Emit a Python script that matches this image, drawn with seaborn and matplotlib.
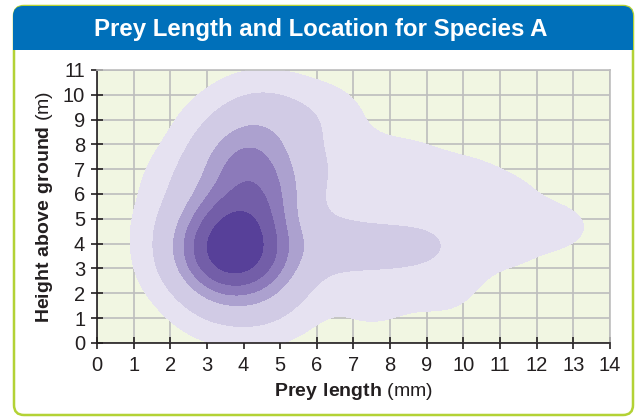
import matplotlib
matplotlib.use("Agg")
import matplotlib.pyplot as plt
from matplotlib.patches import FancyBboxPatch, Rectangle
from matplotlib.transforms import IdentityTransform
import seaborn as sns

# prey sightings: length (mm), height (m), relative count
prey_len = [3.7, 3.8, 3.9, 3.0, 4.6, 3.4, 4.3, 3.3, 4.4, 4.2,
            4.0, 4.3, 4.5, 3.3, 5.0,
            2.5, 2.6, 2.5, 3.5, 4.6, 5.1, 5.3, 5.4, 5.5, 3.3,
            6.3, 7.3, 8.4, 9.4, 6.8, 8.4, 10.0, 11.3, 12.5, 13.0,
            7.5, 9.5, 11.4, 6.2]
height = [3.3, 4.1, 5.0, 3.8, 3.6, 2.5, 2.6, 5.5, 5.8, 6.8,
          7.8, 8.8, 9.6, 7.2, 7.5,
          4.8, 6.5, 3.0, 1.5, 1.3, 4.4, 2.5, 6.2, 8.8, 8.8,
          4.0, 3.9, 3.9, 4.0, 7.2, 7.2, 6.7, 6.0, 4.8, 4.5,
          1.6, 2.0, 3.3, 9.2]
counts = [5, 6, 4.5, 2.5, 2.0, 2, 2, 1.5, 3, 3.2,
          2.6, 1.1, 0.8, 0.8, 0.8,
          1.0, 0.7, 0.5, 0.8, 0.8, 0.7, 0.6, 0.8, 0.7, 0.3,
          1.3, 1.1, 1.1, 0.75, 0.6, 0.45, 0.35, 0.3, 0.25, 0.15,
          0.4, 0.35, 0.25, 0.4]

band_colors = ['#E6E2F1', '#D1CBE5', '#ACA1CF', '#8C7ABA', '#735EA8', '#574099']
iso_levels = [0.025, 0.15, 0.36, 0.5, 0.66, 0.83, 1]

x_ticks = list(range(15))
y_ticks = list(range(12))

plt.rcParams['font.family'] = ['Liberation Sans', 'DejaVu Sans']
plt.rcParams['mathtext.fontset'] = 'custom'
plt.rcParams['mathtext.rm'] = 'Liberation Sans'
plt.rcParams['mathtext.bf'] = 'Liberation Sans:bold'

fig = plt.figure(figsize=(6.38, 4.17), dpi=100)

# card frame (pixel coords, origin bottom-left)
px = IdentityTransform()
fig.patches.append(FancyBboxPatch((14, 2), 619, 409, boxstyle="round,pad=0,rounding_size=10",
                                  transform=px, facecolor='white', edgecolor='#B3D235',
                                  lw=1.8, zorder=-2))
fig.patches.append(FancyBboxPatch((13, 367), 620, 44, boxstyle="round,pad=0,rounding_size=10",
                                  transform=px, facecolor='#0070BA', edgecolor='none', zorder=-1))
fig.patches.append(Rectangle((13, 367), 620, 22, transform=px, facecolor='#0070BA',
                             edgecolor='none', zorder=-1))
fig.text(0.503, 0.930, 'Prey Length and Location for Species A', color='white',
         fontsize=17.3, fontweight='bold', ha='center', va='center')

ax = fig.add_axes([0.152, 0.1775, 0.804, 0.655])
ax.set_facecolor('#F1F6E2')

sns.kdeplot(x=prey_len, y=height, weights=counts, fill=True, levels=iso_levels,
            bw_adjust=0.75, ax=ax)
cset = ax.collections[-1]
cset.set_array(None)
cset.set_facecolor(band_colors)
cset.set_edgecolor('none')

ax.set_xlim(0, 14)
ax.set_ylim(0, 11)
ax.set_xticks(x_ticks)
ax.set_yticks(y_ticks)
ax.set_axisbelow(True)
ax.grid(True, color='#BDBDBD', lw=1.2)
for s in ['top', 'right']:
    ax.spines[s].set_color('#BDBDBD')
    ax.spines[s].set_linewidth(1.2)
for s in ['left', 'bottom']:
    ax.spines[s].set_color('#231F20')
    ax.spines[s].set_linewidth(1.2)
ax.tick_params(direction='inout', length=9, width=1.2, color='#231F20',
               labelsize=14.5, labelcolor='#231F20')
ax.tick_params(axis='x', pad=5)
ax.tick_params(axis='y', pad=4)

ax.set_xlabel(r'$\mathbf{Prey\ length}$ (mm)', fontsize=14, color='#231F20', labelpad=4)
ax.set_ylabel(r'$\mathbf{Height\ above\ ground}$ (m)', fontsize=14, color='#231F20', labelpad=6)

fig.savefig('out.png', dpi=100)
